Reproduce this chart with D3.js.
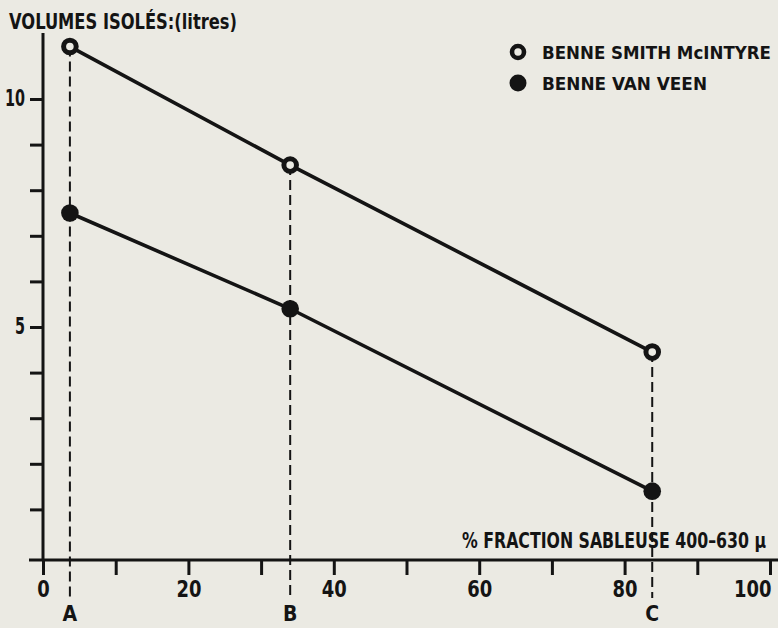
<!DOCTYPE html>
<html>
<head>
<meta charset="utf-8">
<script src="https://cdn.jsdelivr.net/npm/d3@7"></script>
<style>
  html, body { margin: 0; padding: 0; background: #ebeae3; }
  svg { display: block; }
  text { font-family: "Liberation Sans Narrow", "DejaVu Sans Condensed", "Arial Narrow", sans-serif; font-weight: bold; fill: #141414; }
</style>
</head>
<body>
<svg id="chart"></svg>
<script>
// stations sampled, with their sand fraction (%)
const stations = ["A", "B", "C"];
const sandFraction = [3.7, 34.0, 83.8];

// volumes isolated (litres) per grab
const smithMcIntyre = [11.15, 8.55, 4.45];
const vanVeen = [7.5, 5.4, 1.4];

const seriesNames = ["BENNE SMITH McINTYRE", "BENNE VAN VEEN"];

const xTicks = [0, 10, 20, 30, 40, 50, 60, 70, 80, 90, 100];
const xTickLabels = [0, 20, 40, 60, 80, 100];
const yTicks = [1, 2, 3, 4, 5, 6, 7, 8, 9, 10];
const yTickLabels = [5, 10];

const width = 778, height = 628;
const ink = "#141414", paper = "#ebeae3";
const axisY = 560;

const svg = d3.select("#chart")
    .attr("width", width)
    .attr("height", height);

const x = d3.scaleLinear().domain([0, 100]).range([43, 770]);
const y = d3.scaleLinear().domain([0, 10]).range([555, 99]);

// axes lines (drawn by hand, they run past the domain)
svg.append("line")
    .attr("x1", 29).attr("x2", width)
    .attr("y1", axisY).attr("y2", axisY)
    .attr("stroke", ink).attr("stroke-width", 3);
svg.append("line")
    .attr("x1", x(0)).attr("x2", x(0))
    .attr("y1", 33).attr("y2", axisY)
    .attr("stroke", ink).attr("stroke-width", 3);

let xAxis = svg.append("g")
    .attr("transform", "translate(0," + axisY + ")")
    .call(d3.axisBottom(x)
        .tickValues(xTicks)
        .tickSize(15)
        .tickFormat(d => xTickLabels.includes(d) ? d : ""));
xAxis.attr("font-family", null).attr("font-size", null);
xAxis.select(".domain").remove();
xAxis.selectAll("line").attr("stroke", ink).attr("stroke-width", 3);
xAxis.selectAll("text")
    .attr("y", 37).attr("dy", 0)
    .attr("font-size", 23)
    .attr("fill", ink)
    .filter(d => xTickLabels.includes(d))
    .attr("textLength", d => String(d).length * 12.5)
    .attr("lengthAdjust", "spacingAndGlyphs");
// last label sits flush against the page edge
xAxis.selectAll("text").filter(d => d === 100)
    .attr("text-anchor", "end")
    .attr("x", 1);

let yAxis = svg.append("g")
    .attr("transform", "translate(" + x(0) + ",0)")
    .call(d3.axisLeft(y)
        .tickValues(yTicks)
        .tickSize(13)
        .tickFormat(d => yTickLabels.includes(d) ? d : ""));
yAxis.attr("font-family", null).attr("font-size", null);
yAxis.select(".domain").remove();
yAxis.selectAll("line").attr("stroke", ink).attr("stroke-width", 3);
yAxis.selectAll("text")
    .attr("x", -18).attr("dy", "0.3em")
    .attr("font-size", 23)
    .attr("fill", ink)
    .filter(d => yTickLabels.includes(d))
    .attr("textLength", d => String(d).length * 10)
    .attr("lengthAdjust", "spacingAndGlyphs");

// dashed station lines, from the top point down to the station letter
svg.selectAll(".station-line")
    .data(stations)
    .enter().append("line")
    .attr("class", "station-line")
    .attr("x1", (d, i) => x(sandFraction[i]))
    .attr("x2", (d, i) => x(sandFraction[i]))
    .attr("y1", (d, i) => y(smithMcIntyre[i]))
    .attr("y2", 598)
    .attr("stroke", ink)
    .attr("stroke-width", 2)
    .attr("stroke-dasharray", "10,5");

svg.selectAll(".station-label")
    .data(stations)
    .enter().append("text")
    .attr("class", "station-label")
    .attr("x", (d, i) => x(sandFraction[i]))
    .attr("y", 621)
    .attr("text-anchor", "middle")
    .attr("font-size", 21)
    .text(d => d);

const line = d3.line()
    .x((d, i) => x(sandFraction[i]))
    .y(d => y(d));

svg.append("path")
    .datum(smithMcIntyre)
    .attr("d", line)
    .attr("fill", "none")
    .attr("stroke", ink)
    .attr("stroke-width", 3.6);

svg.append("path")
    .datum(vanVeen)
    .attr("d", line)
    .attr("fill", "none")
    .attr("stroke", ink)
    .attr("stroke-width", 3.6);

svg.selectAll(".pt-open")
    .data(smithMcIntyre)
    .enter().append("circle")
    .attr("class", "pt-open")
    .attr("cx", (d, i) => x(sandFraction[i]))
    .attr("cy", d => y(d))
    .attr("r", 6.3)
    .attr("fill", paper)
    .attr("stroke", ink)
    .attr("stroke-width", 5);

svg.selectAll(".pt-filled")
    .data(vanVeen)
    .enter().append("circle")
    .attr("class", "pt-filled")
    .attr("cx", (d, i) => x(sandFraction[i]))
    .attr("cy", d => y(d))
    .attr("r", 8.8)
    .attr("fill", ink);

// titles
svg.append("text")
    .attr("x", 9).attr("y", 29)
    .attr("font-size", 22)
    .attr("textLength", 228)
    .attr("lengthAdjust", "spacingAndGlyphs")
    .text("VOLUMES ISOLÉS:(litres)");

svg.append("text")
    .attr("x", 462).attr("y", 548)
    .attr("font-size", 21)
    .attr("textLength", 304)
    .attr("lengthAdjust", "spacingAndGlyphs")
    .text("% FRACTION SABLEUSE 400–630 µ");

// legend
let legend = svg.append("g");
legend.append("circle")
    .attr("cx", 518).attr("cy", 52)
    .attr("r", 6).attr("fill", paper)
    .attr("stroke", ink).attr("stroke-width", 4.6);
legend.append("circle")
    .attr("cx", 518).attr("cy", 83)
    .attr("r", 8.5).attr("fill", ink);
legend.append("text")
    .attr("x", 542).attr("y", 59)
    .attr("font-size", 18)
    .attr("textLength", 229)
    .attr("lengthAdjust", "spacingAndGlyphs")
    .text(seriesNames[0]);
legend.append("text")
    .attr("x", 542).attr("y", 90)
    .attr("font-size", 18)
    .attr("textLength", 165)
    .attr("lengthAdjust", "spacingAndGlyphs")
    .text(seriesNames[1]);
</script>
</body>
</html>
